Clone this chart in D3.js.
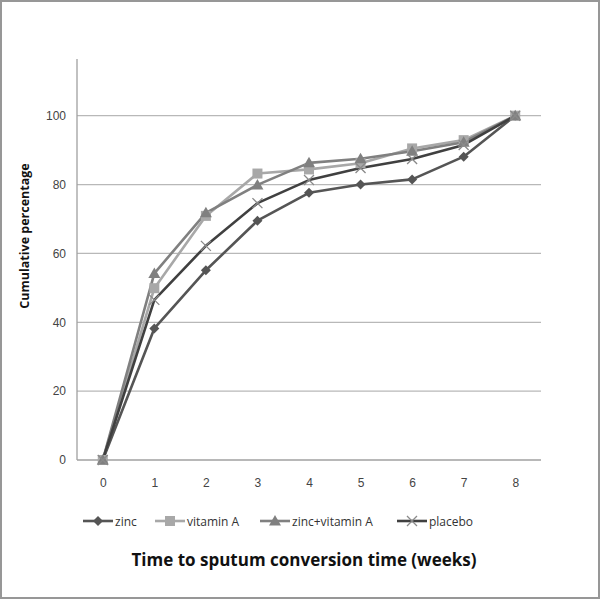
<!DOCTYPE html>
<html><head><meta charset="utf-8">
<script src="https://cdn.jsdelivr.net/npm/d3@7"></script>
<style>body{margin:0;background:#fff}svg{display:block;font-family:"Open Sans","Liberation Sans",sans-serif}</style>
</head><body><svg id="c" width="600" height="599"></svg>
<script>
const weeks = [0,1,2,3,4,5,6,7,8];
const zinc = [0,38.2,55.1,69.5,77.6,80.0,81.5,88.1,100];
const vitaminA = [0,49.9,70.9,83.2,84.4,86.2,90.5,92.9,100];
const zincVitA = [0,54.2,71.8,79.9,86.3,87.5,89.7,92.3,100];
const placebo = [0,46.5,62.2,74.6,81.3,84.8,87.4,91.5,100];
const yTicks = [0,20,40,60,80,100];
const seriesNames = ["zinc","vitamin A","zinc+vitamin A","placebo"];

const series = [
  {name:seriesNames[0], values:zinc, color:"#555555", mcolor:"#555555", marker:"diamond"},
  {name:seriesNames[1], values:vitaminA, color:"#a8a8a8", mcolor:"#a8a8a8", marker:"square"},
  {name:seriesNames[2], values:zincVitA, color:"#808080", mcolor:"#808080", marker:"triangle"},
  {name:seriesNames[3], values:placebo, color:"#404040", mcolor:"#8a8a8a", marker:"x"}
];

const svg = d3.select("#c");
svg.append("rect").attr("x",1).attr("y",1).attr("width",598).attr("height",597)
  .attr("fill","#fff").attr("stroke","#979797").attr("stroke-width",2);

const L=77, R=541, T=59, B=460;
const x = d3.scalePoint().domain(weeks).range([L,R]).padding(0.5);
const y = d3.scaleLinear().domain([0,100]).range([B,115.7]);

// gridlines
svg.append("g").selectAll("line").data(yTicks.filter(d=>d>0)).join("line")
  .attr("x1",L).attr("x2",R).attr("y1",d=>y(d)).attr("y2",d=>y(d))
  .attr("stroke","#b8b8b8").attr("stroke-width",1.2);

// axes lines
svg.append("line").attr("x1",L).attr("x2",L).attr("y1",T).attr("y2",B).attr("stroke","#a0a0a0").attr("stroke-width",1.3);
svg.append("line").attr("x1",L).attr("x2",R).attr("y1",B).attr("y2",B).attr("stroke","#a0a0a0").attr("stroke-width",1.3);

// y ticks labels
const ya = d3.axisLeft(y).tickValues(yTicks).tickSize(0).tickPadding(11);
const gy = svg.append("g").attr("transform",`translate(${L},0)`).call(ya);
gy.select(".domain").remove();
gy.selectAll("text").attr("font-size",12).attr("fill","#444");

const xa = d3.axisBottom(x).tickSize(0).tickPadding(18);
const gx = svg.append("g").attr("transform",`translate(0,${B})`).call(xa);
gx.select(".domain").remove();
gx.selectAll("text").attr("font-size",12).attr("fill","#444");

// axis titles
svg.append("text").attr("transform","translate(29,236) rotate(-90)")
  .attr("text-anchor","middle").attr("font-size",12.5).attr("font-weight","bold").attr("fill","#111")
  .text("Cumulative percentage");
svg.append("text").attr("x",304).attr("y",566).attr("text-anchor","middle")
  .attr("font-size",17).attr("font-weight","bold").attr("fill","#111")
  .text("Time to sputum conversion time (weeks)");

function drawMarker(g, type, cx, cy, color){
  if(type==="diamond"){
    g.append("path").attr("d",`M${cx},${cy-5}L${cx+5},${cy}L${cx},${cy+5}L${cx-5},${cy}Z`).attr("fill",color);
  } else if(type==="square"){
    g.append("rect").attr("x",cx-5).attr("y",cy-5).attr("width",10).attr("height",10).attr("fill",color);
  } else if(type==="triangle"){
    g.append("path").attr("d",`M${cx},${cy-6}L${cx+6},${cy+4.5}L${cx-6},${cy+4.5}Z`).attr("fill",color);
  } else {
    g.append("path").attr("d",`M${cx-5},${cy-5}L${cx+5},${cy+5}M${cx+5},${cy-5}L${cx-5},${cy+5}`)
      .attr("stroke",color).attr("stroke-width",1.3).attr("fill","none");
  }
}

const line = d3.line().x((d,i)=>x(weeks[i])).y(d=>y(d));
series.forEach(s=>{
  svg.append("path").attr("d",line(s.values)).attr("fill","none")
    .attr("stroke",s.color).attr("stroke-width",2.6).attr("stroke-linejoin","round");
});
series.forEach(s=>{
  const g = svg.append("g");
  s.values.forEach((v,i)=>drawMarker(g, s.marker, x(weeks[i]), y(v), s.mcolor));
});

// legend
const legX = [83,155,260,397];
series.forEach((s,i)=>{
  const g = svg.append("g");
  const ly = 521;
  g.append("line").attr("x1",legX[i]).attr("x2",legX[i]+30).attr("y1",ly).attr("y2",ly)
    .attr("stroke",s.color).attr("stroke-width",2.6);
  drawMarker(g, s.marker, legX[i]+15, ly, s.mcolor);
  g.append("text").attr("x",legX[i]+32).attr("y",ly+4.5).attr("font-size",12).attr("fill","#333").text(s.name);
});
</script></body></html>
